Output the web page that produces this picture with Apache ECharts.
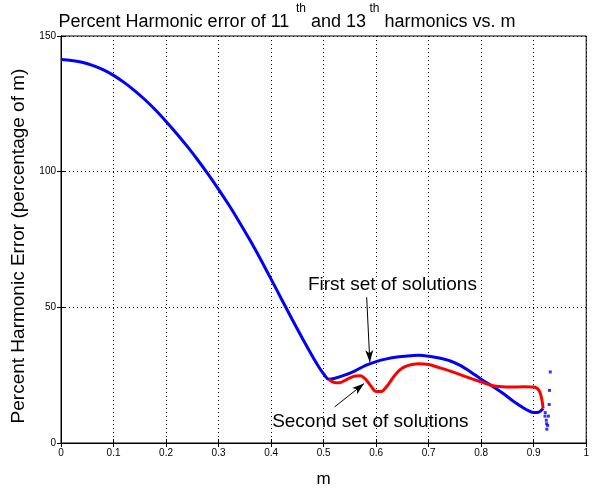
<!DOCTYPE html>
<html>
<head>
<meta charset="utf-8">
<script src="https://cdn.jsdelivr.net/npm/echarts@6/dist/echarts.min.js"></script>
<style>
  html, body { margin: 0; padding: 0; background: #fff; }
  #chart { width: 592px; height: 493px; }
</style>
</head>
<body>
<div id="chart"></div>
<script>
// First set of solutions (blue): modulation index m vs. percent harmonic error
const blueM = [0, 0.02, 0.04, 0.06, 0.08, 0.10, 0.12, 0.14, 0.16, 0.18, 0.20, 0.22, 0.24, 0.26, 0.28,
  0.30, 0.32, 0.34, 0.36, 0.38, 0.40, 0.42, 0.44, 0.46, 0.48, 0.49, 0.50, 0.51, 0.52, 0.54, 0.56,
  0.58, 0.60, 0.62, 0.64, 0.66, 0.68, 0.70, 0.72, 0.74, 0.76, 0.78, 0.80, 0.82, 0.84, 0.86, 0.88,
  0.89, 0.90, 0.91, 0.918];
const blueErr = [141.3, 141.0, 140.3, 139.2, 137.6, 135.5, 132.9, 129.9, 126.5, 122.7, 118.5, 114.1,
  109.4, 104.4, 99.1, 93.5, 87.6, 81.3, 74.7, 67.7, 60.4, 53.0, 45.6, 38.4, 31.5, 28.3, 25.5, 23.5,
  23.8, 25.0, 26.6, 28.6, 30.0, 31.0, 31.7, 32.1, 32.3, 32.0, 31.3, 30.3, 28.6, 26.2, 23.5, 21.1,
  18.5, 15.6, 13.0, 11.9, 11.2, 11.4, 12.7];

// Second set of solutions (red)
const redM = [0.51, 0.52, 0.53, 0.54, 0.55, 0.56, 0.57, 0.58, 0.59, 0.60, 0.61, 0.62, 0.63, 0.64,
  0.65, 0.66, 0.68, 0.70, 0.72, 0.74, 0.76, 0.78, 0.80, 0.82, 0.84, 0.86, 0.88, 0.90, 0.91, 0.915, 0.918];
const redErr = [23.5, 22.3, 22.2, 23.0, 24.0, 24.7, 24.8, 23.5, 21.0, 19.0, 19.0, 20.8, 23.5, 26.0,
  27.6, 28.5, 29.2, 28.9, 27.8, 26.6, 25.2, 23.8, 22.5, 21.2, 20.7, 20.6, 20.7, 20.6, 19.4, 16.5, 12.7];

// Scattered solutions past the end of the blue branch
const dotM = [0.9215, 0.922, 0.924, 0.9245, 0.925, 0.9265, 0.928, 0.9295, 0.930, 0.9315];
const dotErr = [9.9, 11.2, 8.4, 7.1, 5.1, 6.5, 9.9, 14.2, 19.4, 26.2];

// Axis ticks
const xTicks = { min: 0, max: 1, interval: 0.1 };
const yTicks = { min: 0, max: 150, interval: 50 };

// Annotation text and arrow endpoints (data space)
const firstLabel = { text: 'First set of solutions', at: [0.631, 58.3] };
const secondLabel = { text: 'Second set of solutions', at: [0.589, 8.0] };
const firstArrow = [[0.582, 53.7], [0.588, 29.8]];
const secondArrow = [[0.521, 13.3], [0.577, 21.9]];

const zip = (a, b) => a.map((v, i) => [v, b[i]]);
const FONT = 'Liberation Sans, Arial, sans-serif';

const chart = echarts.init(document.getElementById('chart'), null, { renderer: 'canvas' });

const gridLine = { show: true, lineStyle: { color: '#000', type: [1, 3], width: 1 } };
const tickStyle = { show: true, inside: true, length: 4, lineStyle: { color: '#000' } };

const textLabel = (item) => ({
  coord: item.at,
  symbol: 'circle',
  symbolSize: 0,
  label: {
    show: true, position: 'inside', formatter: item.text,
    color: '#000', fontSize: 19, fontFamily: FONT
  }
});

const arrow = (pts) => [
  { coord: pts[0], symbol: 'none' },
  { coord: pts[1], symbol: 'arrow', symbolSize: [6, 12] }
];

chart.setOption({
  animation: false,
  backgroundColor: '#fff',
  title: {
    text: '{a|Percent Harmonic error of 11}{s|  th}{a| and 13}{s| th}{a| harmonics vs. m}',
    left: 282, top: -2, textAlign: 'center',
    textStyle: {
      fontWeight: 'normal',
      rich: {
        a: { fontSize: 18, fontFamily: FONT, color: '#000', fontWeight: 'normal', lineHeight: 28, verticalAlign: 'bottom' },
        s: { fontSize: 12, fontFamily: FONT, color: '#000', fontWeight: 'normal', lineHeight: 14, verticalAlign: 'top' }
      }
    }
  },
  grid: { left: 61, right: 2, top: 36, bottom: 50, show: true, borderColor: '#000', borderWidth: 1 },
  xAxis: [{
    type: 'value', ...xTicks,
    name: 'm', nameLocation: 'middle', nameGap: 28,
    nameTextStyle: { fontSize: 17, fontFamily: FONT, color: '#000' },
    axisLine: { show: true, lineStyle: { color: '#000' } },
    axisTick: tickStyle,
    axisLabel: { fontSize: 10, fontFamily: FONT, color: '#000', margin: 5,
      formatter: v => String(Math.round(v * 10) / 10) },
    splitLine: gridLine
  }, {
    type: 'value', position: 'top', ...xTicks,
    axisLine: { show: true, lineStyle: { color: '#000' } },
    axisTick: tickStyle, axisLabel: { show: false }, splitLine: { show: false }
  }],
  yAxis: [{
    type: 'value', ...yTicks,
    name: 'Percent Harmonic Error (percentage of m)', nameLocation: 'middle', nameGap: 32,
    nameTextStyle: { fontSize: 19, fontFamily: FONT, color: '#000', padding: [0, 13, 0, 0] },
    axisLine: { show: true, lineStyle: { color: '#000' } },
    axisTick: tickStyle,
    axisLabel: { fontSize: 10, fontFamily: FONT, color: '#000', margin: 5 },
    splitLine: gridLine
  }, {
    type: 'value', position: 'right', ...yTicks,
    axisLine: { show: true, lineStyle: { color: '#000' } },
    axisTick: tickStyle, axisLabel: { show: false }, splitLine: { show: false }
  }],
  series: [{
    name: 'First set', type: 'line', data: zip(blueM, blueErr),
    smooth: 0.3, showSymbol: false, lineStyle: { color: '#0000ff', width: 3 },
    markLine: {
      silent: true, animation: false,
      lineStyle: { color: '#000', width: 1, type: 'solid' },
      label: { show: false },
      data: [arrow(firstArrow), arrow(secondArrow)]
    },
    markPoint: { silent: true, data: [textLabel(firstLabel), textLabel(secondLabel)] }
  }, {
    name: 'Second set', type: 'line', data: zip(redM, redErr),
    smooth: 0.3, showSymbol: false, lineStyle: { color: '#ff0000', width: 3 }
  }, {
    name: 'Scattered', type: 'scatter', data: zip(dotM, dotErr),
    symbol: 'rect', symbolSize: 3, itemStyle: { color: '#0000ff' }
  }]
});
</script>
</body>
</html>
